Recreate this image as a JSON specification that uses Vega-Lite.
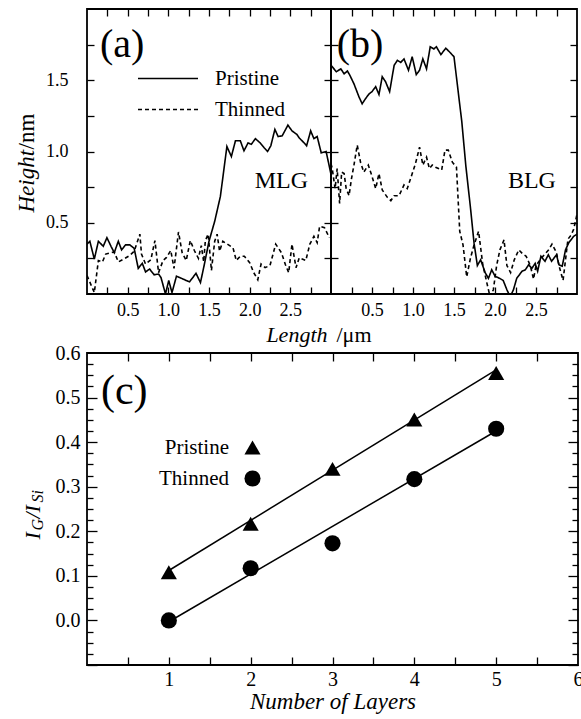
{
  "$schema": "https://vega.github.io/schema/vega-lite/v6.json",
  "background": "white",
  "padding": {"left": 14, "top": 7, "right": 0, "bottom": 0},
  "config": {
    "font": "Liberation Serif",
    "view": {"stroke": "black", "strokeWidth": 1.8},
    "axis": {"domain": false, "grid": false, "tickColor": "black", "tickWidth": 1.3, "labelColor": "black", "titleColor": "black", "titleFontWeight": "normal", "labelFlush": false, "labelOverlap": false, "labelFont": "Liberation Serif", "titleFont": "Liberation Serif", "labelFontSize": 18, "titleFontSize": 22},
    "style": {"guide-label": {"font": "Liberation Serif"}, "guide-title": {"font": "Liberation Serif"}},
    "legend": {"labelColor": "black", "labelFont": "Liberation Serif", "padding": 0},
    "text": {"font": "Liberation Serif", "color": "black"}
  },
  "resolve": {"scale": {"strokeDash": "independent", "shape": "independent"}, "legend": {"strokeDash": "independent", "shape": "independent"}},
  "datasets": {
    "profiles": [
      {"panel":"a","sample":"Pristine","length":0.0,"height":0.35},{"panel":"a","sample":"Pristine","length":0.035,"height":0.37},{"panel":"a","sample":"Pristine","length":0.09,"height":0.245},{"panel":"a","sample":"Pristine","length":0.14,"height":0.37},{"panel":"a","sample":"Pristine","length":0.2,"height":0.335},{"panel":"a","sample":"Pristine","length":0.245,"height":0.395},{"panel":"a","sample":"Pristine","length":0.295,"height":0.335},{"panel":"a","sample":"Pristine","length":0.335,"height":0.29},{"panel":"a","sample":"Pristine","length":0.385,"height":0.37},{"panel":"a","sample":"Pristine","length":0.425,"height":0.31},{"panel":"a","sample":"Pristine","length":0.475,"height":0.345},{"panel":"a","sample":"Pristine","length":0.525,"height":0.345},{"panel":"a","sample":"Pristine","length":0.58,"height":0.32},{"panel":"a","sample":"Pristine","length":0.63,"height":0.18},{"panel":"a","sample":"Pristine","length":0.68,"height":0.215},{"panel":"a","sample":"Pristine","length":0.72,"height":0.155},{"panel":"a","sample":"Pristine","length":0.77,"height":0.175},{"panel":"a","sample":"Pristine","length":0.825,"height":0.135},{"panel":"a","sample":"Pristine","length":0.88,"height":0.14},{"panel":"a","sample":"Pristine","length":0.91,"height":0.115},{"panel":"a","sample":"Pristine","length":0.965,"height":0.0},{"panel":"a","sample":"Pristine","length":1.005,"height":0.095},{"panel":"a","sample":"Pristine","length":1.045,"height":0.01},{"panel":"a","sample":"Pristine","length":1.1,"height":0.125},{"panel":"a","sample":"Pristine","length":1.16,"height":0.11},{"panel":"a","sample":"Pristine","length":1.26,"height":0.085},{"panel":"a","sample":"Pristine","length":1.34,"height":0.145},{"panel":"a","sample":"Pristine","length":1.395,"height":0.08},{"panel":"a","sample":"Pristine","length":1.44,"height":0.2},{"panel":"a","sample":"Pristine","length":1.5,"height":0.37},{"panel":"a","sample":"Pristine","length":1.57,"height":0.51},{"panel":"a","sample":"Pristine","length":1.64,"height":0.685},{"panel":"a","sample":"Pristine","length":1.72,"height":1.035},{"panel":"a","sample":"Pristine","length":1.775,"height":0.965},{"panel":"a","sample":"Pristine","length":1.825,"height":1.075},{"panel":"a","sample":"Pristine","length":1.885,"height":1.075},{"panel":"a","sample":"Pristine","length":1.93,"height":1.005},{"panel":"a","sample":"Pristine","length":1.98,"height":1.06},{"panel":"a","sample":"Pristine","length":2.02,"height":1.05},{"panel":"a","sample":"Pristine","length":2.07,"height":1.09},{"panel":"a","sample":"Pristine","length":2.13,"height":1.06},{"panel":"a","sample":"Pristine","length":2.18,"height":1.025},{"panel":"a","sample":"Pristine","length":2.22,"height":1.0},{"panel":"a","sample":"Pristine","length":2.26,"height":1.04},{"panel":"a","sample":"Pristine","length":2.31,"height":1.155},{"panel":"a","sample":"Pristine","length":2.35,"height":1.105},{"panel":"a","sample":"Pristine","length":2.4,"height":1.11},{"panel":"a","sample":"Pristine","length":2.47,"height":1.185},{"panel":"a","sample":"Pristine","length":2.52,"height":1.145},{"panel":"a","sample":"Pristine","length":2.58,"height":1.12},{"panel":"a","sample":"Pristine","length":2.61,"height":1.095},{"panel":"a","sample":"Pristine","length":2.67,"height":1.06},{"panel":"a","sample":"Pristine","length":2.7,"height":1.04},{"panel":"a","sample":"Pristine","length":2.75,"height":1.145},{"panel":"a","sample":"Pristine","length":2.79,"height":1.09},{"panel":"a","sample":"Pristine","length":2.83,"height":1.105},{"panel":"a","sample":"Pristine","length":2.88,"height":0.99},{"panel":"a","sample":"Pristine","length":2.94,"height":1.0},{"panel":"a","sample":"Pristine","length":3.0,"height":0.84},
      {"panel":"a","sample":"Thinned","length":0.0,"height":0.13},{"panel":"a","sample":"Thinned","length":0.09,"height":0.01},{"panel":"a","sample":"Thinned","length":0.14,"height":0.235},{"panel":"a","sample":"Thinned","length":0.19,"height":0.225},{"panel":"a","sample":"Thinned","length":0.23,"height":0.28},{"panel":"a","sample":"Thinned","length":0.295,"height":0.29},{"panel":"a","sample":"Thinned","length":0.335,"height":0.295},{"panel":"a","sample":"Thinned","length":0.385,"height":0.225},{"panel":"a","sample":"Thinned","length":0.465,"height":0.25},{"panel":"a","sample":"Thinned","length":0.525,"height":0.27},{"panel":"a","sample":"Thinned","length":0.58,"height":0.3},{"panel":"a","sample":"Thinned","length":0.65,"height":0.42},{"panel":"a","sample":"Thinned","length":0.67,"height":0.28},{"panel":"a","sample":"Thinned","length":0.72,"height":0.21},{"panel":"a","sample":"Thinned","length":0.785,"height":0.24},{"panel":"a","sample":"Thinned","length":0.835,"height":0.375},{"panel":"a","sample":"Thinned","length":0.88,"height":0.15},{"panel":"a","sample":"Thinned","length":0.935,"height":0.235},{"panel":"a","sample":"Thinned","length":0.975,"height":0.255},{"panel":"a","sample":"Thinned","length":1.03,"height":0.305},{"panel":"a","sample":"Thinned","length":1.07,"height":0.18},{"panel":"a","sample":"Thinned","length":1.125,"height":0.435},{"panel":"a","sample":"Thinned","length":1.17,"height":0.29},{"panel":"a","sample":"Thinned","length":1.22,"height":0.235},{"panel":"a","sample":"Thinned","length":1.27,"height":0.375},{"panel":"a","sample":"Thinned","length":1.32,"height":0.305},{"panel":"a","sample":"Thinned","length":1.37,"height":0.25},{"panel":"a","sample":"Thinned","length":1.405,"height":0.34},{"panel":"a","sample":"Thinned","length":1.435,"height":0.225},{"panel":"a","sample":"Thinned","length":1.455,"height":0.375},{"panel":"a","sample":"Thinned","length":1.49,"height":0.42},{"panel":"a","sample":"Thinned","length":1.53,"height":0.165},{"panel":"a","sample":"Thinned","length":1.57,"height":0.37},{"panel":"a","sample":"Thinned","length":1.6,"height":0.42},{"panel":"a","sample":"Thinned","length":1.63,"height":0.3},{"panel":"a","sample":"Thinned","length":1.67,"height":0.37},{"panel":"a","sample":"Thinned","length":1.795,"height":0.325},{"panel":"a","sample":"Thinned","length":1.835,"height":0.235},{"panel":"a","sample":"Thinned","length":1.885,"height":0.265},{"panel":"a","sample":"Thinned","length":1.935,"height":0.265},{"panel":"a","sample":"Thinned","length":2.0,"height":0.22},{"panel":"a","sample":"Thinned","length":2.05,"height":0.15},{"panel":"a","sample":"Thinned","length":2.1,"height":0.1},{"panel":"a","sample":"Thinned","length":2.14,"height":0.21},{"panel":"a","sample":"Thinned","length":2.19,"height":0.185},{"panel":"a","sample":"Thinned","length":2.25,"height":0.2},{"panel":"a","sample":"Thinned","length":2.32,"height":0.35},{"panel":"a","sample":"Thinned","length":2.39,"height":0.29},{"panel":"a","sample":"Thinned","length":2.44,"height":0.205},{"panel":"a","sample":"Thinned","length":2.48,"height":0.15},{"panel":"a","sample":"Thinned","length":2.52,"height":0.35},{"panel":"a","sample":"Thinned","length":2.57,"height":0.185},{"panel":"a","sample":"Thinned","length":2.61,"height":0.255},{"panel":"a","sample":"Thinned","length":2.69,"height":0.235},{"panel":"a","sample":"Thinned","length":2.74,"height":0.35},{"panel":"a","sample":"Thinned","length":2.79,"height":0.405},{"panel":"a","sample":"Thinned","length":2.83,"height":0.36},{"panel":"a","sample":"Thinned","length":2.86,"height":0.475},{"panel":"a","sample":"Thinned","length":2.92,"height":0.465},{"panel":"a","sample":"Thinned","length":2.98,"height":0.395},
      {"panel":"b","sample":"Pristine","length":0.0,"height":1.605},{"panel":"b","sample":"Pristine","length":0.065,"height":1.56},{"panel":"b","sample":"Pristine","length":0.12,"height":1.58},{"panel":"b","sample":"Pristine","length":0.16,"height":1.545},{"panel":"b","sample":"Pristine","length":0.2,"height":1.565},{"panel":"b","sample":"Pristine","length":0.23,"height":1.535},{"panel":"b","sample":"Pristine","length":0.28,"height":1.475},{"panel":"b","sample":"Pristine","length":0.34,"height":1.385},{"panel":"b","sample":"Pristine","length":0.38,"height":1.335},{"panel":"b","sample":"Pristine","length":0.42,"height":1.37},{"panel":"b","sample":"Pristine","length":0.465,"height":1.405},{"panel":"b","sample":"Pristine","length":0.5,"height":1.42},{"panel":"b","sample":"Pristine","length":0.545,"height":1.455},{"panel":"b","sample":"Pristine","length":0.585,"height":1.4},{"panel":"b","sample":"Pristine","length":0.625,"height":1.525},{"panel":"b","sample":"Pristine","length":0.665,"height":1.49},{"panel":"b","sample":"Pristine","length":0.715,"height":1.42},{"panel":"b","sample":"Pristine","length":0.77,"height":1.605},{"panel":"b","sample":"Pristine","length":0.81,"height":1.64},{"panel":"b","sample":"Pristine","length":0.85,"height":1.625},{"panel":"b","sample":"Pristine","length":0.89,"height":1.65},{"panel":"b","sample":"Pristine","length":0.945,"height":1.57},{"panel":"b","sample":"Pristine","length":0.99,"height":1.665},{"panel":"b","sample":"Pristine","length":1.04,"height":1.54},{"panel":"b","sample":"Pristine","length":1.08,"height":1.57},{"panel":"b","sample":"Pristine","length":1.12,"height":1.65},{"panel":"b","sample":"Pristine","length":1.165,"height":1.58},{"panel":"b","sample":"Pristine","length":1.21,"height":1.735},{"panel":"b","sample":"Pristine","length":1.255,"height":1.72},{"panel":"b","sample":"Pristine","length":1.285,"height":1.735},{"panel":"b","sample":"Pristine","length":1.34,"height":1.68},{"panel":"b","sample":"Pristine","length":1.4,"height":1.725},{"panel":"b","sample":"Pristine","length":1.46,"height":1.69},{"panel":"b","sample":"Pristine","length":1.5,"height":1.665},{"panel":"b","sample":"Pristine","length":1.595,"height":1.21},{"panel":"b","sample":"Pristine","length":1.645,"height":0.895},{"panel":"b","sample":"Pristine","length":1.7,"height":0.61},{"panel":"b","sample":"Pristine","length":1.745,"height":0.355},{"panel":"b","sample":"Pristine","length":1.785,"height":0.2},{"panel":"b","sample":"Pristine","length":1.825,"height":0.24},{"panel":"b","sample":"Pristine","length":1.88,"height":0.15},{"panel":"b","sample":"Pristine","length":1.92,"height":0.11},{"panel":"b","sample":"Pristine","length":1.96,"height":0.17},{"panel":"b","sample":"Pristine","length":2.0,"height":0.125},{"panel":"b","sample":"Pristine","length":2.055,"height":0.11},{"panel":"b","sample":"Pristine","length":2.1,"height":0.095},{"panel":"b","sample":"Pristine","length":2.145,"height":0.03},{"panel":"b","sample":"Pristine","length":2.185,"height":-0.02},{"panel":"b","sample":"Pristine","length":2.225,"height":0.03},{"panel":"b","sample":"Pristine","length":2.265,"height":0.11},{"panel":"b","sample":"Pristine","length":2.33,"height":0.16},{"panel":"b","sample":"Pristine","length":2.37,"height":0.17},{"panel":"b","sample":"Pristine","length":2.41,"height":0.205},{"panel":"b","sample":"Pristine","length":2.45,"height":0.18},{"panel":"b","sample":"Pristine","length":2.49,"height":0.215},{"panel":"b","sample":"Pristine","length":2.52,"height":0.16},{"panel":"b","sample":"Pristine","length":2.56,"height":0.265},{"panel":"b","sample":"Pristine","length":2.61,"height":0.23},{"panel":"b","sample":"Pristine","length":2.65,"height":0.275},{"panel":"b","sample":"Pristine","length":2.69,"height":0.23},{"panel":"b","sample":"Pristine","length":2.75,"height":0.275},{"panel":"b","sample":"Pristine","length":2.78,"height":0.205},{"panel":"b","sample":"Pristine","length":2.82,"height":0.195},{"panel":"b","sample":"Pristine","length":2.86,"height":0.31},{"panel":"b","sample":"Pristine","length":2.9,"height":0.36},{"panel":"b","sample":"Pristine","length":2.96,"height":0.405},{"panel":"b","sample":"Pristine","length":3.0,"height":0.42},
      {"panel":"b","sample":"Thinned","length":0.0,"height":0.915},{"panel":"b","sample":"Thinned","length":0.015,"height":0.88},{"panel":"b","sample":"Thinned","length":0.05,"height":0.74},{"panel":"b","sample":"Thinned","length":0.075,"height":0.88},{"panel":"b","sample":"Thinned","length":0.105,"height":0.635},{"panel":"b","sample":"Thinned","length":0.13,"height":0.855},{"panel":"b","sample":"Thinned","length":0.16,"height":0.845},{"panel":"b","sample":"Thinned","length":0.185,"height":0.74},{"panel":"b","sample":"Thinned","length":0.22,"height":0.69},{"panel":"b","sample":"Thinned","length":0.25,"height":0.81},{"panel":"b","sample":"Thinned","length":0.28,"height":0.905},{"panel":"b","sample":"Thinned","length":0.32,"height":1.045},{"panel":"b","sample":"Thinned","length":0.36,"height":0.925},{"panel":"b","sample":"Thinned","length":0.4,"height":0.855},{"panel":"b","sample":"Thinned","length":0.455,"height":0.905},{"panel":"b","sample":"Thinned","length":0.495,"height":0.835},{"panel":"b","sample":"Thinned","length":0.545,"height":0.74},{"panel":"b","sample":"Thinned","length":0.585,"height":0.845},{"panel":"b","sample":"Thinned","length":0.625,"height":0.73},{"panel":"b","sample":"Thinned","length":0.685,"height":0.68},{"panel":"b","sample":"Thinned","length":0.73,"height":0.655},{"panel":"b","sample":"Thinned","length":0.77,"height":0.69},{"panel":"b","sample":"Thinned","length":0.83,"height":0.69},{"panel":"b","sample":"Thinned","length":0.89,"height":0.765},{"panel":"b","sample":"Thinned","length":0.93,"height":0.74},{"panel":"b","sample":"Thinned","length":0.985,"height":0.835},{"panel":"b","sample":"Thinned","length":1.03,"height":0.915},{"panel":"b","sample":"Thinned","length":1.08,"height":1.03},{"panel":"b","sample":"Thinned","length":1.12,"height":0.905},{"panel":"b","sample":"Thinned","length":1.165,"height":0.96},{"panel":"b","sample":"Thinned","length":1.2,"height":0.88},{"panel":"b","sample":"Thinned","length":1.235,"height":0.905},{"panel":"b","sample":"Thinned","length":1.275,"height":0.89},{"panel":"b","sample":"Thinned","length":1.35,"height":0.87},{"panel":"b","sample":"Thinned","length":1.39,"height":1.01},{"panel":"b","sample":"Thinned","length":1.43,"height":1.01},{"panel":"b","sample":"Thinned","length":1.48,"height":0.925},{"panel":"b","sample":"Thinned","length":1.53,"height":0.89},{"panel":"b","sample":"Thinned","length":1.57,"height":0.44},{"panel":"b","sample":"Thinned","length":1.61,"height":0.345},{"panel":"b","sample":"Thinned","length":1.655,"height":0.12},{"panel":"b","sample":"Thinned","length":1.7,"height":0.25},{"panel":"b","sample":"Thinned","length":1.745,"height":0.345},{"panel":"b","sample":"Thinned","length":1.8,"height":0.44},{"panel":"b","sample":"Thinned","length":1.85,"height":0.21},{"panel":"b","sample":"Thinned","length":1.9,"height":0.08},{"panel":"b","sample":"Thinned","length":1.94,"height":-0.02},{"panel":"b","sample":"Thinned","length":1.98,"height":0.03},{"panel":"b","sample":"Thinned","length":2.02,"height":0.2},{"panel":"b","sample":"Thinned","length":2.06,"height":0.31},{"panel":"b","sample":"Thinned","length":2.11,"height":0.38},{"panel":"b","sample":"Thinned","length":2.145,"height":0.2},{"panel":"b","sample":"Thinned","length":2.19,"height":0.15},{"panel":"b","sample":"Thinned","length":2.235,"height":0.24},{"panel":"b","sample":"Thinned","length":2.29,"height":0.31},{"panel":"b","sample":"Thinned","length":2.34,"height":0.28},{"panel":"b","sample":"Thinned","length":2.38,"height":0.265},{"panel":"b","sample":"Thinned","length":2.43,"height":0.2},{"panel":"b","sample":"Thinned","length":2.47,"height":0.105},{"panel":"b","sample":"Thinned","length":2.5,"height":0.2},{"panel":"b","sample":"Thinned","length":2.55,"height":0.24},{"panel":"b","sample":"Thinned","length":2.6,"height":0.275},{"panel":"b","sample":"Thinned","length":2.655,"height":0.31},{"panel":"b","sample":"Thinned","length":2.695,"height":0.35},{"panel":"b","sample":"Thinned","length":2.75,"height":0.29},{"panel":"b","sample":"Thinned","length":2.78,"height":0.2},{"panel":"b","sample":"Thinned","length":2.83,"height":0.095},{"panel":"b","sample":"Thinned","length":2.86,"height":0.24},{"panel":"b","sample":"Thinned","length":2.89,"height":0.385},{"panel":"b","sample":"Thinned","length":2.93,"height":0.415},{"panel":"b","sample":"Thinned","length":2.96,"height":0.455},{"panel":"b","sample":"Thinned","length":3.0,"height":0.56}
    ],
    "ratios": [
      {"sample":"Pristine","layers":1,"ratio":0.108},{"sample":"Pristine","layers":2,"ratio":0.217},{"sample":"Pristine","layers":3,"ratio":0.34},{"sample":"Pristine","layers":4,"ratio":0.451},{"sample":"Pristine","layers":5,"ratio":0.555},
      {"sample":"Thinned","layers":1,"ratio":0.0},{"sample":"Thinned","layers":2,"ratio":0.117},{"sample":"Thinned","layers":3,"ratio":0.173},{"sample":"Thinned","layers":4,"ratio":0.317},{"sample":"Thinned","layers":5,"ratio":0.43}
    ],
    "fits": [
      {"sample":"Pristine","layers":1,"ratio":0.112},{"sample":"Pristine","layers":5,"ratio":0.562},
      {"sample":"Thinned","layers":1,"ratio":-0.003},{"sample":"Thinned","layers":5,"ratio":0.425}
    ]
  },
  "spacing": -4,
  "vconcat": [
    {
      "hconcat": [
        {
          "width": 244, "height": 285,
          "data": {"name": "profiles"},
          "transform": [{"filter": "datum.panel == 'a'"}],
          "layer": [
            {
              "mark": {"type": "line", "color": "black", "strokeWidth": 1.6, "clip": true},
              "encoding": {
                "x": {"field": "length", "type": "quantitative", "scale": {"domain": [0, 3], "nice": false, "zero": false},
                  "axis": {"orient": "bottom", "ticks": false, "labelPadding": 7, "values": [0.5,1,1.5,2,2.5], "format": ".1f", "labelFont": "Liberation Serif", "titleFont": "Liberation Serif", "title": "Length", "titleFontStyle": "italic", "titleAlign": "right", "titleX": 240, "titleY": 47, "titleBaseline": "alphabetic"}},
                "y": {"field": "height", "type": "quantitative", "scale": {"domain": [0, 2], "nice": false, "zero": false},
                  "axis": {"orient": "left", "ticks": false, "labelPadding": 19, "values": [0.5,1,1.5], "format": ".1f", "labelFont": "Liberation Serif", "titleFont": "Liberation Serif", "title": "Height", "titleFontStyle": "italic", "titleAngle": 270, "titleAlign": "left", "titleX": -54, "titleY": 203, "titleBaseline": "alphabetic", "titleFontSize": 23}},
                "strokeDash": {"field": "sample", "type": "nominal", "scale": {"domain": ["Pristine", "Thinned"], "range": [[1, 0], [4, 3]]},
                  "legend": {"orient": "none", "legendX": 50, "legendY": 59, "title": null, "symbolType": "stroke", "symbolSize": 3600, "symbolStrokeWidth": 1.6, "symbolStrokeColor": "black", "clipHeight": 21, "labelFontSize": 21, "labelFont": "Liberation Serif", "labelOffset": 16, "rowPadding": 9}}
              }
            },
            {
              "mark": {"type": "point", "opacity": 0},
              "encoding": {
                "x": {"field": "length", "type": "quantitative", "axis": {"orient": "bottom", "values": [0.25,0.5,0.75,1,1.25,1.5,1.75,2,2.25,2.5,2.75], "labels": false, "title": null, "tickSize": 7, "offset": -7}},
                "y": {"field": "height", "type": "quantitative", "axis": {"orient": "left", "values": [0.25,0.5,0.75,1,1.25,1.5,1.75], "labels": false, "title": null, "tickSize": 7, "offset": -7}}
              }
            },
            {
              "mark": {"type": "point", "opacity": 0},
              "encoding": {
                "x": {"field": "length", "type": "quantitative", "axis": {"orient": "top", "values": [0.25,0.5,0.75,1,1.25,1.5,1.75,2,2.25,2.5,2.75], "labels": false, "title": null, "tickSize": 7, "offset": -7}},
                "y": {"field": "height", "type": "quantitative", "axis": {"orient": "right", "values": [0.25,0.5,0.75,1,1.25,1.5,1.75], "labels": false, "title": null, "tickSize": 7, "offset": -7}}
              }
            },
            {
              "mark": {"type": "point", "opacity": 0},
              "encoding": {
                "x": {"field": "length", "type": "quantitative", "axis": null},
                "y": {"field": "height", "type": "quantitative", "axis": {"orient": "left", "ticks": false, "labels": false, "title": "/nm", "titleFont": "Liberation Serif", "titleAngle": 270, "titleAlign": "left", "titleX": -54, "titleY": 140, "titleBaseline": "alphabetic", "titleFontSize": 23}}
              }
            },
            {
              "data": {"values": [{}]},
              "mark": {"type": "text", "font": "Liberation Serif", "fontSize": 40, "align": "left", "baseline": "alphabetic"},
              "encoding": {
                "x": {"datum": 0.16, "type": "quantitative", "axis": null},
                "y": {"datum": 1.66, "type": "quantitative", "axis": null},
                "text": {"value": "(a)"}
              }
            },
            {
              "data": {"values": [{}]},
              "mark": {"type": "text", "font": "Liberation Serif", "fontSize": 24, "align": "center", "baseline": "middle"},
              "encoding": {
                "x": {"datum": 2.39, "type": "quantitative", "axis": null},
                "y": {"datum": 0.79, "type": "quantitative", "axis": null},
                "text": {"value": "MLG"}
              }
            }
          ],
          "resolve": {"axis": {"x": "independent", "y": "independent"}}
        },
        {
          "width": 246, "height": 285,
          "data": {"name": "profiles"},
          "transform": [{"filter": "datum.panel == 'b'"}],
          "layer": [
            {
              "mark": {"type": "line", "color": "black", "strokeWidth": 1.6, "clip": true},
              "encoding": {
                "x": {"field": "length", "type": "quantitative", "scale": {"domain": [0, 3], "nice": false, "zero": false},
                  "axis": {"orient": "bottom", "ticks": false, "labelPadding": 7, "values": [0.5,1,1.5,2,2.5], "format": ".1f", "labelFont": "Liberation Serif", "titleFont": "Liberation Serif", "title": "/μm", "titleAlign": "left", "titleX": 5, "titleY": 47, "titleBaseline": "alphabetic"}},
                "y": {"field": "height", "type": "quantitative", "scale": {"domain": [0, 2], "nice": false, "zero": false}, "axis": null},
                "strokeDash": {"field": "sample", "type": "nominal", "scale": {"domain": ["Pristine", "Thinned"], "range": [[1, 0], [4, 3]]}, "legend": null}
              }
            },
            {
              "mark": {"type": "point", "opacity": 0},
              "encoding": {
                "x": {"field": "length", "type": "quantitative", "axis": {"orient": "bottom", "values": [0.25,0.5,0.75,1,1.25,1.5,1.75,2,2.25,2.5,2.75], "labels": false, "title": null, "tickSize": 7, "offset": -7}},
                "y": {"field": "height", "type": "quantitative", "axis": {"orient": "left", "values": [0.25,0.5,0.75,1,1.25,1.5,1.75], "labels": false, "title": null, "tickSize": 7, "offset": -7}}
              }
            },
            {
              "mark": {"type": "point", "opacity": 0},
              "encoding": {
                "x": {"field": "length", "type": "quantitative", "axis": {"orient": "top", "values": [0.25,0.5,0.75,1,1.25,1.5,1.75,2,2.25,2.5,2.75], "labels": false, "title": null, "tickSize": 7, "offset": -7}},
                "y": {"field": "height", "type": "quantitative", "axis": {"orient": "right", "values": [0.25,0.5,0.75,1,1.25,1.5,1.75], "labels": false, "title": null, "tickSize": 7, "offset": -7}}
              }
            },
            {
              "data": {"values": [{}]},
              "mark": {"type": "text", "font": "Liberation Serif", "fontSize": 40, "align": "left", "baseline": "alphabetic"},
              "encoding": {
                "x": {"datum": 0.07, "type": "quantitative", "axis": null},
                "y": {"datum": 1.66, "type": "quantitative", "axis": null},
                "text": {"value": "(b)"}
              }
            },
            {
              "data": {"values": [{}]},
              "mark": {"type": "text", "font": "Liberation Serif", "fontSize": 24, "align": "center", "baseline": "middle"},
              "encoding": {
                "x": {"datum": 2.45, "type": "quantitative", "axis": null},
                "y": {"datum": 0.79, "type": "quantitative", "axis": null},
                "text": {"value": "BLG"}
              }
            }
          ],
          "resolve": {"axis": {"x": "independent", "y": "independent"}}
        }
      ],
      "spacing": 0,
      "bounds": "flush"
    },
    {
      "width": 491, "height": 312,
      "layer": [
        {
          "data": {"name": "fits"},
          "mark": {"type": "line", "color": "black", "strokeWidth": 1.5},
          "encoding": {
            "x": {"field": "layers", "type": "quantitative", "scale": {"domain": [0, 6], "nice": false, "zero": false},
              "axis": {"orient": "bottom", "ticks": false, "labelPadding": 4, "values": [1,2,3,4,5,6], "format": "d", "labelFont": "Liberation Serif", "titleFont": "Liberation Serif", "title": "Number of Layers", "titleFontStyle": "italic", "labelFontSize": 20, "titleFontSize": 23, "titleY": 43, "titleBaseline": "alphabetic"}},
            "y": {"field": "ratio", "type": "quantitative", "scale": {"domain": [-0.1, 0.6], "nice": false, "zero": false},
              "axis": {"orient": "left", "ticks": false, "labelPadding": 7, "values": [0,0.1,0.2,0.3,0.4,0.5,0.6], "format": ".1f", "labelFont": "Liberation Serif", "labelFontSize": 20, "title": null}},
            "detail": {"field": "sample", "type": "nominal"}
          }
        },
        {
          "data": {"name": "ratios"},
          "mark": {"type": "point", "filled": true, "color": "black", "opacity": 1, "size": 260},
          "encoding": {
            "x": {"field": "layers", "type": "quantitative", "axis": null},
            "y": {"field": "ratio", "type": "quantitative", "axis": null},
            "shape": {"field": "sample", "type": "nominal", "scale": {"domain": ["Pristine", "Thinned"], "range": ["triangle-up", "circle"]},
              "legend": {"orient": "none", "legendX": 155, "legendY": 84, "title": null, "labelFontSize": 21, "labelFont": "Liberation Serif", "labelAlign": "right", "labelOffset": -34, "rowPadding": 9, "symbolFillColor": "black", "symbolStrokeWidth": 0, "symbolSize": 260}}
          }
        },
        {
          "data": {"name": "ratios"},
          "mark": {"type": "point", "opacity": 0},
          "encoding": {
            "x": {"field": "layers", "type": "quantitative", "axis": {"orient": "bottom", "values": [0.5,1,1.5,2,2.5,3,3.5,4,4.5,5,5.5], "labels": false, "title": null, "tickSize": 8, "offset": -8}},
            "y": {"field": "ratio", "type": "quantitative", "axis": {"orient": "left", "values": [-0.1,0,0.1,0.2,0.3,0.4,0.5], "labels": false, "title": null, "tickSize": 10, "offset": -10}}
          }
        },
        {
          "data": {"name": "ratios"},
          "mark": {"type": "point", "opacity": 0},
          "encoding": {
            "x": {"field": "layers", "type": "quantitative", "axis": {"orient": "top", "values": [0.5,1,1.5,2,2.5,3,3.5,4,4.5,5,5.5], "labels": false, "title": null, "tickSize": 8, "offset": -8}},
            "y": {"field": "ratio", "type": "quantitative", "axis": {"orient": "left", "values": [-0.075,-0.05,-0.025,0.025,0.05,0.075,0.125,0.15,0.175,0.225,0.25,0.275,0.325,0.35,0.375,0.425,0.45,0.475,0.525,0.55,0.575], "labels": false, "title": null, "tickSize": 6, "offset": -6}}
          }
        },
        {
          "data": {"name": "ratios"},
          "mark": {"type": "point", "opacity": 0},
          "encoding": {
            "x": {"field": "layers", "type": "quantitative", "axis": null},
            "y": {"field": "ratio", "type": "quantitative", "axis": {"orient": "right", "values": [-0.1,0,0.1,0.2,0.3,0.4,0.5], "labels": false, "title": null, "tickSize": 10, "offset": -10}}
          }
        },
        {
          "data": {"name": "ratios"},
          "mark": {"type": "point", "opacity": 0},
          "encoding": {
            "x": {"field": "layers", "type": "quantitative", "axis": null},
            "y": {"field": "ratio", "type": "quantitative", "axis": {"orient": "right", "values": [-0.075,-0.05,-0.025,0.025,0.05,0.075,0.125,0.15,0.175,0.225,0.25,0.275,0.325,0.35,0.375,0.425,0.45,0.475,0.525,0.55,0.575], "labels": false, "title": null, "tickSize": 6, "offset": -6}}
          }
        },
        {
          "data": {"name": "ratios"},
          "mark": {"type": "point", "opacity": 0},
          "encoding": {
            "x": {"field": "layers", "type": "quantitative", "axis": null},
            "y": {"field": "ratio", "type": "quantitative", "axis": {"orient": "left", "ticks": false, "labels": false, "title": "I", "titleFont": "Liberation Serif", "titleFontStyle": "italic", "titleFontSize": 22, "titleAngle": 270, "titleAlign": "left", "titleBaseline": "alphabetic", "titleX": -48, "titleY": 186}}
          }
        },
        {
          "data": {"name": "ratios"},
          "mark": {"type": "point", "opacity": 0},
          "encoding": {
            "x": {"field": "layers", "type": "quantitative", "axis": null},
            "y": {"field": "ratio", "type": "quantitative", "axis": {"orient": "left", "ticks": false, "labels": false, "title": "G", "titleFont": "Liberation Serif", "titleFontStyle": "italic", "titleFontSize": 16, "titleAngle": 270, "titleAlign": "left", "titleBaseline": "alphabetic", "titleX": -45, "titleY": 177}}
          }
        },
        {
          "data": {"name": "ratios"},
          "mark": {"type": "point", "opacity": 0},
          "encoding": {
            "x": {"field": "layers", "type": "quantitative", "axis": null},
            "y": {"field": "ratio", "type": "quantitative", "axis": {"orient": "left", "ticks": false, "labels": false, "title": "/I", "titleFont": "Liberation Serif", "titleFontStyle": "italic", "titleFontSize": 22, "titleAngle": 270, "titleAlign": "left", "titleBaseline": "alphabetic", "titleX": -48, "titleY": 165}}
          }
        },
        {
          "data": {"name": "ratios"},
          "mark": {"type": "point", "opacity": 0},
          "encoding": {
            "x": {"field": "layers", "type": "quantitative", "axis": null},
            "y": {"field": "ratio", "type": "quantitative", "axis": {"orient": "left", "ticks": false, "labels": false, "title": "Si", "titleFont": "Liberation Serif", "titleFontStyle": "italic", "titleFontSize": 16, "titleAngle": 270, "titleAlign": "left", "titleBaseline": "alphabetic", "titleX": -45, "titleY": 149}}
          }
        },
        {
          "data": {"values": [{}]},
          "mark": {"type": "text", "font": "Liberation Serif", "fontSize": 42, "align": "left", "baseline": "alphabetic"},
          "encoding": {
            "x": {"datum": 0.17, "type": "quantitative", "axis": null},
            "y": {"datum": 0.485, "type": "quantitative", "axis": null},
            "text": {"value": "(c)"}
          }
        }
      ],
      "resolve": {"axis": {"x": "independent", "y": "independent"}}
    }
  ]
}
